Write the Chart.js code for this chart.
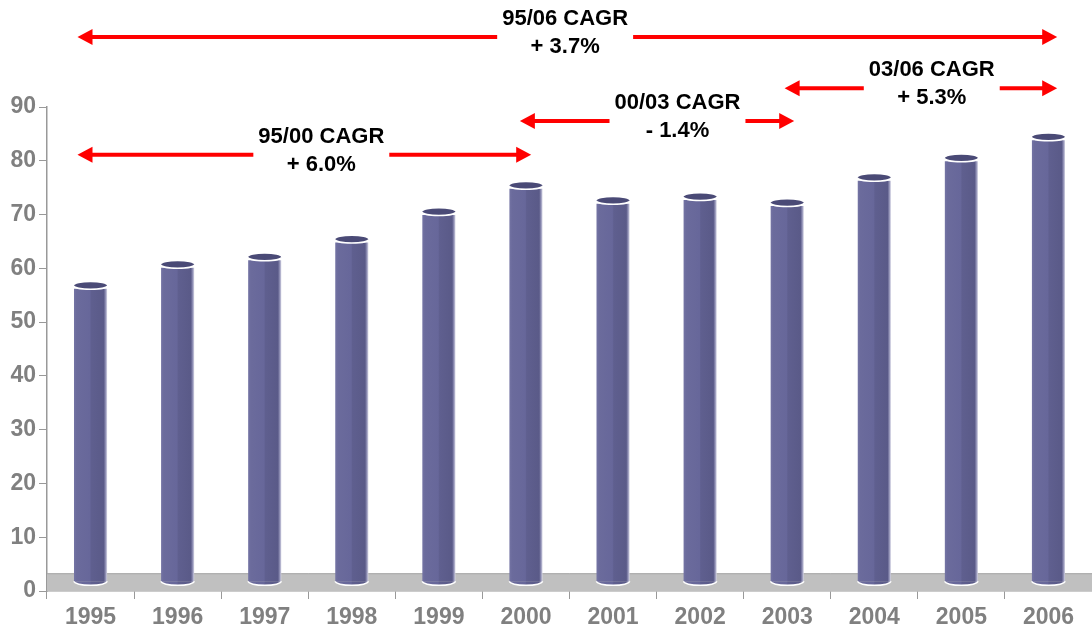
<!DOCTYPE html>
<html>
<head>
<meta charset="utf-8">
<script src="https://cdn.jsdelivr.net/npm/chart.js@4"></script>
<style>
html,body{margin:0;padding:0;background:#fff;}
canvas{display:block;}
</style>
</head>
<body>
<canvas id="c" width="1092" height="632"></canvas>
<script>
// ---- data ----
const categories = ['1995','1996','1997','1998','1999','2000','2001','2002','2003','2004','2005','2006'];
const values = [56.2, 60.1, 61.5, 64.8, 69.9, 74.8, 72.0, 72.7, 71.6, 76.3, 79.9, 83.8];
const yTickValues = [0, 10, 20, 30, 40, 50, 60, 70, 80, 90];
const annTitles = ['95/06 CAGR', '95/00 CAGR', '00/03 CAGR', '03/06 CAGR'];
const annRates = ['+ 3.7%', '+ 6.0%', '- 1.4%', '+ 5.3%'];

// ---- layout of annotations (category-index / value units) ----
const annLayout = [
  {from: -0.15, to: 11.1, at: 103.0, textX: 5.45},
  {from: -0.15, to: 5.06, at: 81.1, textX: 2.65},
  {from: 4.93, to: 8.08, at: 87.4, textX: 6.74},
  {from: 7.97, to: 11.1, at: 93.5, textX: 9.66}
];
const FLOOR_TOP = 3.3;
const BAR_BASE = 1.8;
const BAR_PCT = 0.38;
const FONT = '"Liberation Sans", Arial, sans-serif';

function barGradient(c) {
  const chart = c.chart;
  const xs = chart.scales && chart.scales.x;
  if (!xs || c.dataIndex === undefined || !xs.ticks || !xs.ticks.length) return '#62628f';
  const cx = xs.getPixelForValue(c.dataIndex);
  const half = xs.width / categories.length * BAR_PCT / 2;
  const g = chart.ctx.createLinearGradient(cx - half, 0, cx + half, 0);
  g.addColorStop(0, '#7474a4');
  g.addColorStop(0.08, '#6b6b9c');
  g.addColorStop(0.48, '#67679a');
  g.addColorStop(0.52, '#5f5f8f');
  g.addColorStop(0.9, '#5a5a88');
  g.addColorStop(0.95, '#8c8cb2');
  g.addColorStop(1, '#d4d4e4');
  return g;
}

const floorPlugin = {
  id: 'floor',
  beforeDatasetsDraw(chart) {
    const {ctx, scales: {x, y}} = chart;
    const top = y.getPixelForValue(FLOOR_TOP);
    const bot = y.getPixelForValue(0);
    ctx.save();
    ctx.fillStyle = '#c0c0c0';
    ctx.fillRect(x.left, top, x.right - x.left, bot - top);
    ctx.strokeStyle = '#a6a6a6';
    ctx.lineWidth = 1;
    ctx.beginPath();
    ctx.moveTo(x.left, top + 0.5);
    ctx.lineTo(x.right, top + 0.5);
    ctx.stroke();
    ctx.restore();
  }
};

const capsPlugin = {
  id: 'caps',
  afterDatasetsDraw(chart) {
    const ctx = chart.ctx;
    const meta = chart.getDatasetMeta(0);
    ctx.save();
    meta.data.forEach(el => {
      const w = el.width / 2;
      // bottom rounded end
      ctx.beginPath();
      ctx.ellipse(el.x, el.base, w, 4, 0, 0, Math.PI);
      ctx.fillStyle = el.options.backgroundColor;
      ctx.fill();
      ctx.strokeStyle = '#ffffff';
      ctx.lineWidth = 1.5;
      ctx.stroke();
      // top cap
      ctx.beginPath();
      ctx.ellipse(el.x, el.y - 3, w, 3.5, 0, 0, Math.PI * 2);
      ctx.fillStyle = '#4a4a76';
      ctx.fill();
      ctx.beginPath();
      ctx.ellipse(el.x, el.y - 3, w, 3.5, 0, 0, Math.PI);
      ctx.strokeStyle = '#ffffff';
      ctx.lineWidth = 1.5;
      ctx.stroke();
    });
    ctx.restore();
  }
};

function arrowHead(ctx, tipX, y, dir) {
  ctx.beginPath();
  ctx.moveTo(tipX, y);
  ctx.lineTo(tipX + dir * 15, y - 8);
  ctx.lineTo(tipX + dir * 15, y + 8);
  ctx.closePath();
  ctx.fill();
}

const arrowsPlugin = {
  id: 'arrows',
  afterDraw(chart) {
    const {ctx, scales: {x, y}} = chart;
    ctx.save();
    ctx.font = 'bold 22px ' + FONT;
    ctx.textAlign = 'center';
    ctx.textBaseline = 'middle';
    annLayout.forEach((a, i) => {
      const x1 = x.getPixelForValue(a.from);
      const x2 = x.getPixelForValue(a.to);
      const ay = y.getPixelForValue(a.at);
      const tx = x.getPixelForValue(a.textX);
      const tw = Math.max(ctx.measureText(annTitles[i]).width, ctx.measureText(annRates[i]).width);
      const g1 = tx - tw / 2 - 5;
      const g2 = tx + tw / 2 + 5;
      ctx.strokeStyle = '#ff0000';
      ctx.fillStyle = '#ff0000';
      ctx.lineWidth = 4;
      ctx.beginPath();
      ctx.moveTo(x1 + 10, ay);
      ctx.lineTo(g1, ay);
      ctx.moveTo(g2, ay);
      ctx.lineTo(x2 - 10, ay);
      ctx.stroke();
      arrowHead(ctx, x1, ay, 1);
      arrowHead(ctx, x2, ay, -1);
      ctx.fillStyle = '#000000';
      ctx.fillText(annTitles[i], tx, ay - 18);
      ctx.fillText(annRates[i], tx, ay + 10);
    });
    ctx.restore();
  }
};

new Chart(document.getElementById('c'), {
  type: 'bar',
  data: {
    labels: categories,
    datasets: [{
      data: values,
      base: BAR_BASE,
      backgroundColor: barGradient,
      borderWidth: 0,
      barPercentage: BAR_PCT,
      categoryPercentage: 1
    }]
  },
  options: {
    responsive: false,
    animation: false,
    devicePixelRatio: 1,
    layout: {padding: {top: 107, right: 0, left: 0, bottom: 0}},
    plugins: {legend: {display: false}, tooltip: {enabled: false}},
    scales: {
      x: {
        grid: {display: true, drawOnChartArea: false, offset: true, tickLength: 8, color: '#999999'},
        border: {color: '#999999', width: 1.5},
        ticks: {color: '#808080', font: {family: FONT, size: 23, weight: 'bold'}, padding: 5, maxRotation: 0},
        afterFit(s) { s.height = 41; }
      },
      y: {
        min: 0, max: 90,
        afterBuildTicks(s) { s.ticks = yTickValues.map(v => ({value: v})); },
        grid: {display: true, drawOnChartArea: false, tickLength: 8, color: '#999999'},
        border: {color: '#999999', width: 1.5},
        ticks: {color: '#808080', font: {family: FONT, size: 23, weight: 'bold'}, padding: 3},
        afterFit(s) { s.width = 47; }
      }
    }
  },
  plugins: [floorPlugin, capsPlugin, arrowsPlugin]
});
</script>
</body>
</html>
